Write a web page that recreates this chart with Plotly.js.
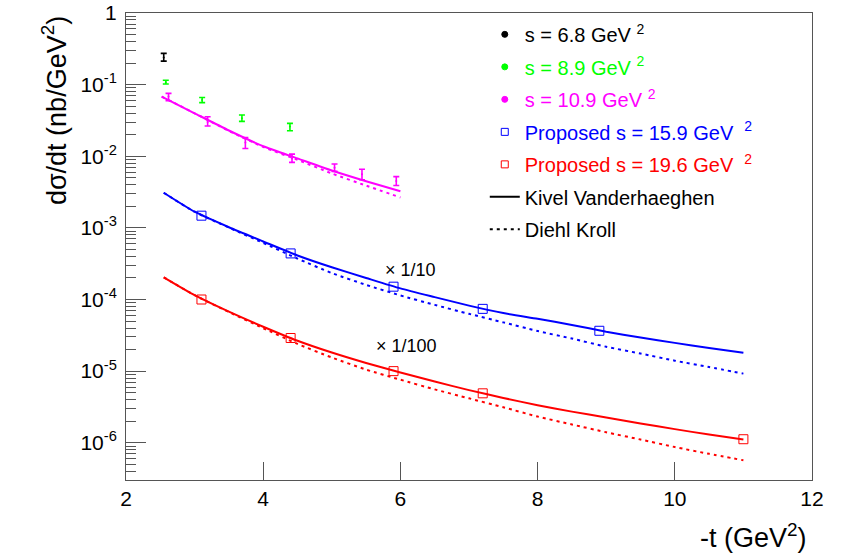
<!DOCTYPE html>
<html><head><meta charset="utf-8">
<script src="https://cdn.plot.ly/plotly-3.0.1.min.js"></script>
<style>html,body{margin:0;padding:0;background:#fff}</style>
</head><body><div id="chart" style="width:845px;height:558px"></div>
<script>
// ---- data ----
// measured data, s = 6.8 GeV^2
var s68X = [2.55];
var s68Y = [0.24];
var s68ErrUp = [0.033];
var s68ErrDn = [0.027];
// s = 8.9 GeV^2
var s89X = [2.58, 3.11, 3.69, 4.39];
var s89Y = [0.108, 0.061, 0.034, 0.026];
var s89ErrUp = [0.007, 0.005, 0.0036, 0.0028];
var s89ErrDn = [0.006, 0.005, 0.0033, 0.0033];
// s = 10.9 GeV^2
var s109X = [2.62, 3.19, 3.74, 4.42, 5.04, 5.44, 5.94];
var s109Y = [0.068, 0.030, 0.0155, 0.0093, 0.0069, 0.0056, 0.0045];
var s109ErrUp = [0.0076, 0.0056, 0.0027, 0.0014, 0.0009, 0.0010, 0.0007];
var s109ErrDn = [0.0084, 0.0036, 0.0027, 0.0011, 0.00075, 0.0009, 0.0006];
// proposed points
var p159X = [3.10, 4.40, 5.90, 7.20, 8.90];
var p159Y = [1.48e-3, 4.4e-4, 1.51e-4, 7.4e-5, 3.66e-5];
var p196X = [3.10, 4.40, 5.90, 7.20, 11.0];
var p196Y = [1.0e-4, 2.9e-5, 1.0e-5, 4.9e-6, 1.12e-6];
// theory curves
var magT = [2.52, 3.0, 3.5, 4.0, 4.5, 5.0, 5.5, 6.0];
var magKV = [0.0680, 0.0398, 0.0229, 0.0138, 0.00933, 0.00631, 0.00447, 0.00324];
var magDK = [0.0680, 0.0398, 0.0226, 0.0135, 0.00891, 0.00575, 0.00389, 0.00266];
var curveT = [2.55, 3.0, 3.5, 4.0, 4.5, 5.0, 5.5, 6.0, 6.5, 7.0, 7.5, 8.0, 8.5, 9.0, 9.5, 10.0, 10.5, 11.0];
var blueKV = [3.09e-3, 1.68e-3, 1.02e-3, 6.46e-4, 4.12e-4, 2.82e-4, 2.00e-4, 1.43e-4, 1.08e-4, 8.22e-5, 6.46e-5, 5.37e-5, 4.42e-5, 3.55e-5, 2.95e-5, 2.48e-5, 2.11e-5, 1.80e-5];
var blueDK = [3.09e-3, 1.68e-3, 1.01e-3, 6.17e-4, 3.72e-4, 2.34e-4, 1.60e-4, 1.14e-4, 8.41e-5, 6.31e-5, 4.79e-5, 3.63e-5, 2.85e-5, 2.19e-5, 1.76e-5, 1.40e-5, 1.14e-5, 9.23e-6];
var redKV = [2.04e-4, 1.15e-4, 6.76e-5, 4.17e-5, 2.66e-5, 1.82e-5, 1.30e-5, 9.55e-6, 7.16e-6, 5.43e-6, 4.22e-6, 3.35e-6, 2.72e-6, 2.26e-6, 1.86e-6, 1.55e-6, 1.30e-6, 1.11e-6];
var redDK = [2.04e-4, 1.15e-4, 6.68e-5, 3.98e-5, 2.40e-5, 1.55e-5, 1.05e-5, 7.59e-6, 5.56e-6, 4.17e-6, 3.13e-6, 2.32e-6, 1.80e-6, 1.40e-6, 1.11e-6, 8.71e-7, 7.00e-7, 5.69e-7];
// labels
var xTicks = [2, 4, 6, 8, 10, 12];
var yTickVals = [1, 1e-1, 1e-2, 1e-3, 1e-4, 1e-5, 1e-6];
var yTickText = ['1', '10<sup>-1</sup>', '10<sup>-2</sup>', '10<sup>-3</sup>', '10<sup>-4</sup>', '10<sup>-5</sup>', '10<sup>-6</sup>'];
var legendNames = ['s = 6.8 GeV <sup>2</sup>', 's = 8.9 GeV <sup>2</sup>', 's = 10.9 GeV <sup>2</sup>',
  'Proposed s = 15.9 GeV  <sup>2</sup>', 'Proposed s = 19.6 GeV  <sup>2</sup>', 'Kivel Vanderhaeghen', 'Diehl Kroll'];

var FONT = 'Liberation Sans, Arial, Helvetica, sans-serif';
var BLACK = '#000000', GREEN = '#00ff00', MAG = '#ff00ff', BLUE = '#0000ff', RED = '#ff0000';
var DOT = '3px,4px';

function colored(t, c) { return '<span style="color:' + c + '">' + t + '</span>'; }

function dataTrace(x, y, up, dn, c) {
  return {x: x, y: y, type: 'scatter', mode: 'markers', showlegend: false,
    marker: {color: c, size: 2},
    error_y: {type: 'data', symmetric: false, array: up, arrayminus: dn, color: c, thickness: 1.6, width: 3}};
}
function curve(x, y, c, dash) {
  return {x: x, y: y, type: 'scatter', mode: 'lines', showlegend: false,
    line: {color: c, width: 2, dash: dash, shape: 'spline', smoothing: 0.6}};
}
function legMarker(name, c, sym, size, grp) {
  return {x: [null], y: [null], type: 'scatter', mode: 'markers', name: name, legendgroup: grp,
    marker: {color: c, size: size, symbol: sym, line: {color: c, width: 1}}};
}

var traces = [
  legMarker(colored(legendNames[0], BLACK), BLACK, 'circle', 6, 'a'),
  legMarker(colored(legendNames[1], GREEN), GREEN, 'circle', 6, 'b'),
  legMarker(colored(legendNames[2], MAG), MAG, 'circle', 6, 'c'),
  legMarker(colored(legendNames[3], BLUE), BLUE, 'square-open', 7, 'd'),
  legMarker(colored(legendNames[4], RED), RED, 'square-open', 7, 'e'),
  {x: [null], y: [null], type: 'scatter', mode: 'lines', name: legendNames[5], legendgroup: 'f', line: {color: BLACK, width: 2}},
  {x: [null], y: [null], type: 'scatter', mode: 'lines', name: legendNames[6], legendgroup: 'g', line: {color: BLACK, width: 2, dash: DOT}},
  curve(magT, magKV, MAG, 'solid'),
  curve(magT, magDK, MAG, DOT),
  curve(curveT, blueKV, BLUE, 'solid'),
  curve(curveT, blueDK, BLUE, DOT),
  curve(curveT, redKV, RED, 'solid'),
  curve(curveT, redDK, RED, DOT),
  dataTrace(s68X, s68Y, s68ErrUp, s68ErrDn, BLACK),
  dataTrace(s89X, s89Y, s89ErrUp, s89ErrDn, GREEN),
  dataTrace(s109X, s109Y, s109ErrUp, s109ErrDn, MAG),
  {x: p159X, y: p159Y, type: 'scatter', mode: 'markers', showlegend: false,
    marker: {symbol: 'square-open', size: 9, color: BLUE, line: {color: BLUE, width: 1}}},
  {x: p196X, y: p196Y, type: 'scatter', mode: 'markers', showlegend: false,
    marker: {symbol: 'square-open', size: 9, color: RED, line: {color: RED, width: 1}}}
];

var AX = '#555555';
var layout = {
  width: 845, height: 558,
  margin: {l: 126, r: 33, t: 13, b: 78},
  paper_bgcolor: '#ffffff', plot_bgcolor: '#ffffff',
  font: {family: FONT, size: 20, color: '#000'},
  showlegend: true,
  legend: {x: 0.523, xanchor: 'left', y: 0.996, yanchor: 'top', bgcolor: 'rgba(0,0,0,0)',
    borderwidth: 0, font: {family: FONT, size: 20, color: '#000'}, tracegroupgap: 3.5, itemwidth: 30},
  xaxis: {range: [2, 12], tickmode: 'array', tickvals: xTicks, ticks: 'inside', ticklen: 18,
    tickcolor: AX, linecolor: AX, linewidth: 1, mirror: true, showgrid: false, zeroline: false,
    tickfont: {family: FONT, size: 21, color: '#000'}},
  yaxis: {type: 'log', range: [-6.52, 0], tickmode: 'array', tickvals: yTickVals, ticktext: yTickText,
    ticks: 'inside', ticklen: 20, tickcolor: AX, linecolor: AX, linewidth: 1, mirror: true,
    showgrid: false, zeroline: false, ticklabelstandoff: 4,
    minor: {ticks: 'inside', ticklen: 10, tickcolor: AX, dtick: 'D1', showgrid: false},
    tickfont: {family: FONT, size: 21, color: '#000'}},
  annotations: [
    {xref: 'paper', yref: 'paper', x: -0.104, y: 0.998, xanchor: 'center', yanchor: 'top', textangle: -90,
      text: 'd\u03c3/dt (nb/GeV<sup>2</sup>)', showarrow: false, font: {family: FONT, size: 27, color: '#000'}},
    {xref: 'paper', yref: 'paper', x: 0.995, y: -0.12, xanchor: 'right', yanchor: 'middle',
      text: '-t (GeV<sup>2</sup>)', showarrow: false, font: {family: FONT, size: 27, color: '#000'}},
    {xref: 'x', yref: 'y', x: 5.75, y: -3.59, xanchor: 'left', yanchor: 'middle',
      text: '\u00d7 1/10', showarrow: false, font: {family: FONT, size: 18, color: '#000'}},
    {xref: 'x', yref: 'y', x: 5.615, y: -4.647, xanchor: 'left', yanchor: 'middle',
      text: '\u00d7 1/100', showarrow: false, font: {family: FONT, size: 18, color: '#000'}}
  ]
};

Plotly.newPlot('chart', traces, layout, {staticPlot: true, displayModeBar: false});
</script></body></html>
